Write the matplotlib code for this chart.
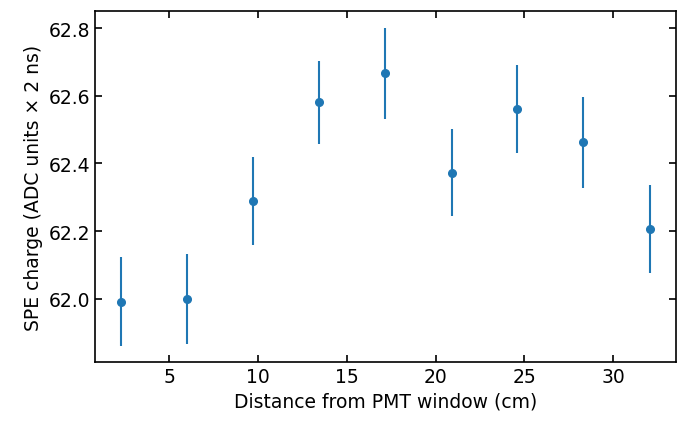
import matplotlib
matplotlib.use('Agg')
import matplotlib.pyplot as plt

distance = [2.3, 6.0, 9.7, 13.45, 17.15, 20.9, 24.6, 28.3, 32.05]
spe_charge = [61.992, 62.0, 62.29, 62.581, 62.666, 62.373, 62.561, 62.462, 62.206]
spe_err = [0.131, 0.133, 0.13, 0.122, 0.135, 0.129, 0.13, 0.134, 0.13]

plt.rcParams['font.size'] = 13.5

fig = plt.figure(figsize=(6.89, 4.31), dpi=100)
ax = fig.add_axes([0.138, 0.157, 0.843, 0.815])
ax.errorbar(distance, spe_charge, yerr=spe_err, fmt='o', color='#1f77b4',
            markersize=5.5, elinewidth=1.5)
ax.set_xlabel('Distance from PMT window (cm)')
ax.set_ylabel('SPE charge (ADC units \u00d7 2 ns)')
ax.set_yticks([62.0, 62.2, 62.4, 62.6, 62.8])
ax.set_ylim(61.813, 62.85)
ax.tick_params(direction='in', top=True, right=True, length=5, width=1.2)
for s in ax.spines.values():
  s.set_linewidth(1.2)

fig.savefig('out.png', dpi=100)
